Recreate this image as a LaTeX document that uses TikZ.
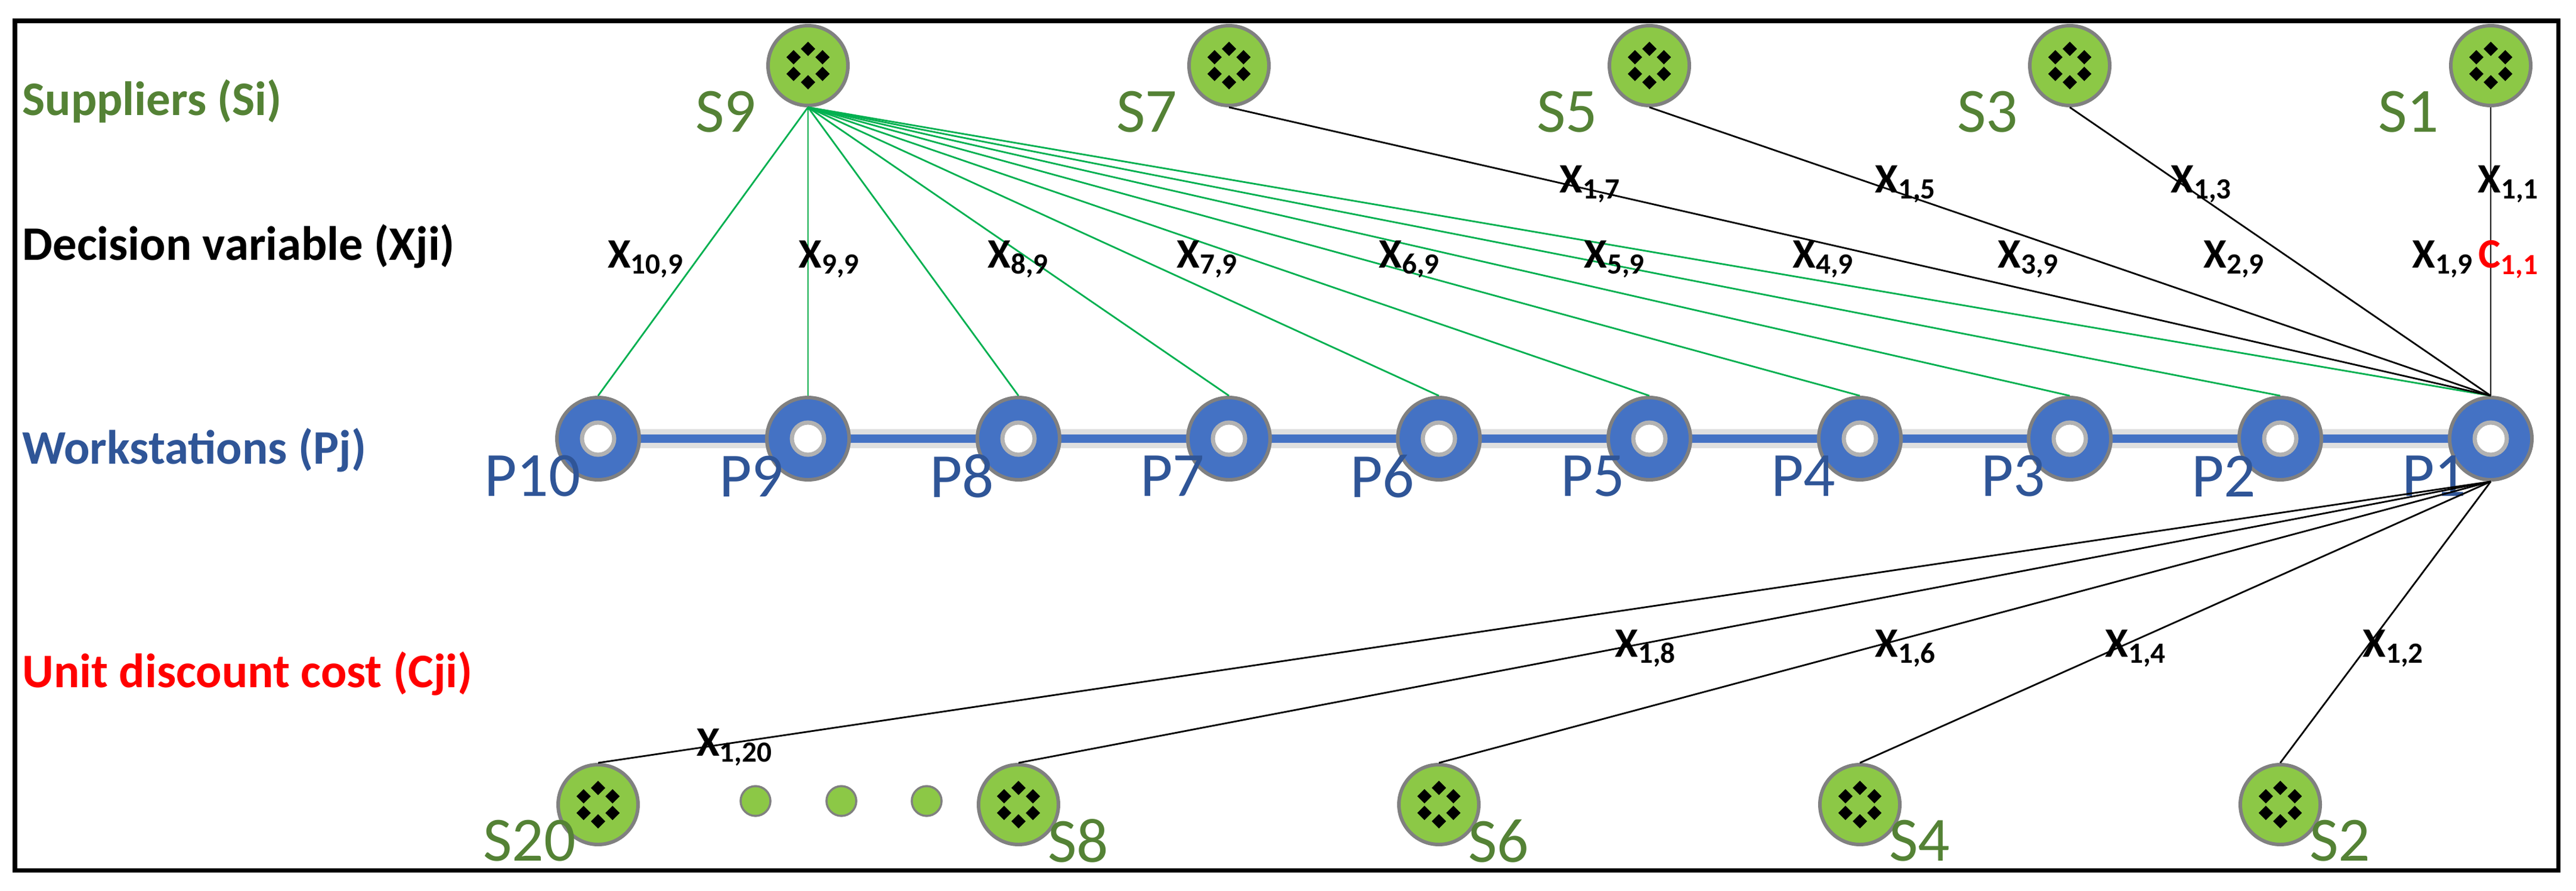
\documentclass[tikz,border=0pt]{standalone}
\usepackage{fontspec}
\setmainfont{Carlito}
\usetikzlibrary{shapes.geometric,calc}
\definecolor{supgreen}{RGB}{140,200,70}
\definecolor{labgreen}{RGB}{84,130,53}
\definecolor{wsblue}{RGB}{68,114,196}
\definecolor{labblue}{RGB}{47,85,151}
\definecolor{linkgreen}{RGB}{0,176,80}
\tikzstyle{supplier} = [circle, minimum size=1.34cm, inner sep=0pt, draw=gray, line width=1.7pt, fill=supgreen,
  path picture={\foreach \a in {90,30,-30,-90,210,150} \fill[black] ($(path picture bounding box.center)+(\a:0.28)$) +(0,0.12) -- +(0.12,0) -- +(0,-0.12) -- +(-0.12,0) -- cycle;}]
\tikzstyle{station} = [circle, minimum size=1.38cm, inner sep=0pt, draw=gray, line width=1.7pt, fill=wsblue,
  path picture={\draw[gray!60, line width=2pt, fill=white] (path picture bounding box.center) circle (0.27);}]
\tikzstyle{dot} = [circle, minimum size=0.5cm, inner sep=0pt, draw=gray, line width=1pt, fill=supgreen]
\tikzstyle{slab} = [text=labgreen, font=\fontsize{30}{32}\selectfont]
\tikzstyle{plab} = [text=labblue, font=\fontsize{30}{32}\selectfont]
\tikzstyle{xlab} = [font=\fontsize{20}{22}\selectfont\bfseries]
\tikzstyle{head} = [anchor=west, font=\fontsize{23}{26}\selectfont\bfseries]
\tikzstyle{glink} = [linkgreen, line width=0.8pt]
\tikzstyle{blink} = [black, line width=0.8pt]
\begin{document}
\begin{tikzpicture}
\useasboundingbox (0,0) rectangle (43.2,-14.95);
\draw[line width=2pt] (0.25,-0.35) rectangle (42.9,-14.6);

% row headings
\node[head, text=labgreen] (hsup) at (0.25,-1.7) {Suppliers (Si)};
\node[head] (hdec) at (0.25,-4.13) {Decision variable (Xji)};
\node[head, text=labblue] (hws) at (0.25,-7.55) {Workstations (Pj)};
\node[head, text=red] (hcost) at (0.25,-11.3) {Unit discount cost (Cji)};

% workstations
\draw[gray!25, line width=9pt] (10.03,-7.36) -- (41.77,-7.36);
\draw[wsblue, line width=4pt] (10.03,-7.36) -- (41.77,-7.36);
\foreach \i/\x in {1/41.77,2/38.24,3/34.71,4/31.19,5/27.66,6/24.13,7/20.61,8/17.08,9/13.55,10/10.03}
  \node[station] (P\i) at (\x,-7.36) {};
\foreach \i in {1,...,9}
  \node[plab] at ($(P\i)+(-0.95,-0.63)$) {P\i};
\node[plab] at ($(P10)+(-1.1,-0.63)$) {P10};

% suppliers
\foreach \i/\x in {1/41.77,3/34.71,5/27.66,7/20.61,9/13.55}
  \node[supplier] (S\i) at (\x,-1.1) {};
\foreach \i/\x in {2/38.24,4/31.19,6/24.13,8/17.08,20/10.03}
  \node[supplier] (S\i) at (\x,-13.5) {};
\foreach \i in {1,3,5,7,9}
  \node[slab] at ($(S\i)+(-1.38,-0.78)$) {S\i};
\foreach \i in {2,4,6,8}
  \node[slab] at ($(S\i)+(1.0,-0.61)$) {S\i};
\node[slab] at ($(S20)+(-1.15,-0.61)$) {S20};
\node[dot] (d1) at (12.67,-13.44) {};
\node[dot] (d2) at (14.11,-13.44) {};
\node[dot] (d3) at (15.54,-13.44) {};

% links
\foreach \i in {1,...,10}
  \draw[glink] (S9.south) -- (P\i.north);
\foreach \i in {1,3,5,7}
  \draw[blink] (S\i.south) -- (P1.north);
\foreach \i in {2,4,6,8,20}
  \draw[blink] (P1.south) -- (S\i.north);

% variable labels
\foreach \a/\x in {10/10.83,9/13.91,8/17.08,7/20.25,6/23.64,5/27.08,4/30.58,3/34.02,2/37.47,1/40.97}
  \node[xlab] at (\x,-4.35) {X\textsubscript{\a,9}};
\foreach \b/\x in {7/26.67,5/31.96,3/36.92,1/42.07}
  \node[xlab] at (\x,-3.09) {X\textsubscript{1,\b}};
\node[xlab, text=red] at (42.07,-4.35) {C\textsubscript{1,1}};
\foreach \b/\x in {8/27.6,6/31.96,4/35.82,2/40.14}
  \node[xlab] at (\x,-10.88) {X\textsubscript{1,\b}};
\node[xlab] at (12.32,-12.54) {X\textsubscript{1,20}};
\end{tikzpicture}
\end{document}
